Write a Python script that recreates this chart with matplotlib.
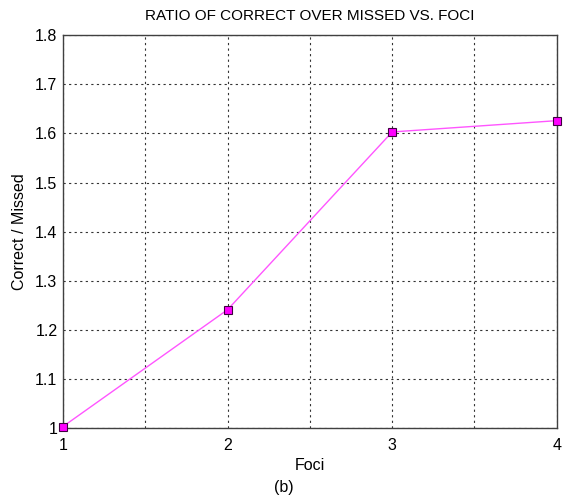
import matplotlib
matplotlib.use("Agg")
import matplotlib.pyplot as plt
from matplotlib.ticker import FixedLocator

plt.rcParams['font.family'] = ['Liberation Sans', 'DejaVu Sans']

foci = [1, 2, 3, 4]
ratio = [1.003, 1.241, 1.603, 1.626]
x_major = [1, 2, 3, 4]
x_labels = ['1', '2', '3', '4']
x_minor = [1.5, 2.5, 3.5]
y_ticks = [1.0, 1.1, 1.2, 1.3, 1.4, 1.5, 1.6, 1.7, 1.8]
y_labels = ['1', '1.1', '1.2', '1.3', '1.4', '1.5', '1.6', '1.7', '1.8']

fig = plt.figure(figsize=(5.67, 4.96), dpi=100)
ax = fig.add_axes([0.111, 0.137, 0.871, 0.792])

ax.plot(foci, ratio, color='#ff55ff', lw=1.0, marker='s', markersize=6,
        markerfacecolor='#ff00ff', markeredgecolor='#400040', markeredgewidth=0.8,
        clip_on=False, zorder=3)

ax.set_xlim(1, 4)
ax.set_ylim(1.0, 1.8)
ax.set_xticks(x_major)
ax.set_xticklabels(x_labels)
ax.xaxis.set_minor_locator(FixedLocator(x_minor))
ax.set_yticks(y_ticks)
ax.set_yticklabels(y_labels)

ax.grid(True, which='both', axis='x', color='#333333', linestyle=(0, (2, 3)), lw=0.8)
ax.grid(True, which='major', axis='y', color='#333333', linestyle=(0, (2, 3)), lw=0.8)

ax.tick_params(which='both', direction='in', length=0, labelsize=11.5, colors='black')
ax.tick_params(axis='x', pad=7)
ax.tick_params(axis='y', pad=4)
for s in ax.spines.values():
    s.set_color('#404040')
    s.set_linewidth(1.0)

ax.set_title('RATIO OF CORRECT OVER MISSED VS. FOCI', fontsize=11, pad=11)
ax.set_xlabel('Foci', fontsize=11.5, labelpad=4)
ax.set_ylabel('Correct / Missed', fontsize=11.5, labelpad=6)
fig.text(0.5, 0.018, '(b)', ha='center', va='center', fontsize=11.5)

fig.savefig('out.png', dpi=100)
